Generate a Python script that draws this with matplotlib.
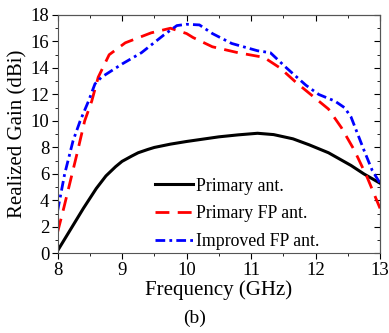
import matplotlib
matplotlib.use("Agg")
import matplotlib.pyplot as plt
import numpy as np
from matplotlib.ticker import MultipleLocator, NullFormatter

plt.rcParams['font.family'] = ['Liberation Serif', 'DejaVu Serif']

# Primary ant.
f_prim = [8.0, 8.1, 8.25, 8.4, 8.5, 8.6, 8.75, 8.9, 9.0, 9.15, 9.25, 9.4, 9.5, 9.75, 10.0, 10.5, 10.8,
          11.1, 11.35, 11.65, 11.9, 12.2, 12.55, 12.75, 13.0]
g_prim = [0.2, 1.0, 2.2, 3.4, 4.15, 4.9, 5.85, 6.55, 6.95, 7.35, 7.6, 7.85, 8.0, 8.25, 8.45, 8.8, 8.95,
          9.07, 8.97, 8.65, 8.2, 7.6, 6.64, 6.0, 5.3]

# Primary FP ant.
f_fp = [8.0, 8.1, 8.2, 8.3, 8.42, 8.53, 8.63, 8.8, 9.05, 9.45, 9.75, 10.0, 10.1, 10.4, 10.8, 11.2,
        11.45, 11.7, 11.95, 12.2, 12.4, 12.6, 12.8, 13.0]
g_fp = [1.6, 3.5, 5.5, 7.5, 10.0, 11.5, 13.3, 15.0, 15.9, 16.65, 17.0, 16.6, 16.3, 15.6, 15.15, 14.8,
        14.0, 12.9, 11.9, 10.9, 9.5, 7.8, 5.75, 3.4]

# Improved FP ant.
f_imp = [8.0, 8.11, 8.24, 8.35, 8.48, 8.58, 8.68, 9.0, 9.3, 9.65, 9.85, 10.0, 10.2, 10.4, 10.7, 11.1,
         11.3, 11.55, 11.85, 12.05, 12.3, 12.45, 12.55, 12.75, 12.88, 13.0]
g_imp = [3.2, 6.0, 8.5, 10.0, 11.5, 12.8, 13.3, 14.3, 15.15, 16.5, 17.2, 17.3, 17.25, 16.6, 15.85, 15.3,
         15.15, 14.0, 12.7, 12.0, 11.5, 11.0, 10.3, 7.8, 6.25, 5.3]

fig = plt.figure(figsize=(3.89, 3.33), dpi=100)
ax = fig.add_axes([0.148, 0.239, 0.829, 0.716])

ax.plot(f_prim, g_prim, color='black', lw=2.2, solid_joinstyle='round', label='Primary ant.')
ax.plot(f_fp, g_fp, color='red', lw=2.0, dashes=(5, 3), label='Primary FP ant.')
ax.plot(f_imp, g_imp, color='blue', lw=2.0, dashes=(3.5, 1.5, 1, 1.5), label='Improved FP ant.')

ax.set_xlim(8, 13)
ax.set_ylim(0, 18)
ax.xaxis.set_major_locator(MultipleLocator(1))
ax.xaxis.set_minor_locator(MultipleLocator(0.5))
ax.yaxis.set_major_locator(MultipleLocator(2))
ax.yaxis.set_minor_locator(MultipleLocator(1))
ax.tick_params(which='both', direction='out', labelsize=13.5, pad=2)
ax.tick_params(which='major', length=4)
ax.tick_params(which='minor', length=2.5)
for spine in ax.spines.values():
    spine.set_color('#555555')

# inward ticks on top and right
top = ax.secondary_xaxis('top')
top.xaxis.set_major_locator(MultipleLocator(1))
top.xaxis.set_minor_locator(MultipleLocator(0.5))
top.xaxis.set_major_formatter(NullFormatter())
top.tick_params(which='both', direction='in')
top.tick_params(which='major', length=4)
top.tick_params(which='minor', length=2.5)
right = ax.secondary_yaxis('right')
right.yaxis.set_major_locator(MultipleLocator(2))
right.yaxis.set_minor_locator(MultipleLocator(1))
right.yaxis.set_major_formatter(NullFormatter())
right.tick_params(which='both', direction='in')
right.tick_params(which='major', length=4)
right.tick_params(which='minor', length=2.5)
top.spines['top'].set_color('#555555')
right.spines['right'].set_color('#555555')

ax.set_xlabel('Frequency (GHz)', fontsize=15, labelpad=1)
ax.set_ylabel('Realized Gain (dBi)', fontsize=15, labelpad=2)

ax.legend(loc='upper left', bbox_to_anchor=(0.265, 0.37), frameon=False, fontsize=12.8,
          handlelength=2.1, handletextpad=0.2, labelspacing=0.6, borderpad=0.2)

fig.text(0.5, 0.03, '(b)', ha='center', fontsize=14)

fig.savefig('out.png', dpi=100)
